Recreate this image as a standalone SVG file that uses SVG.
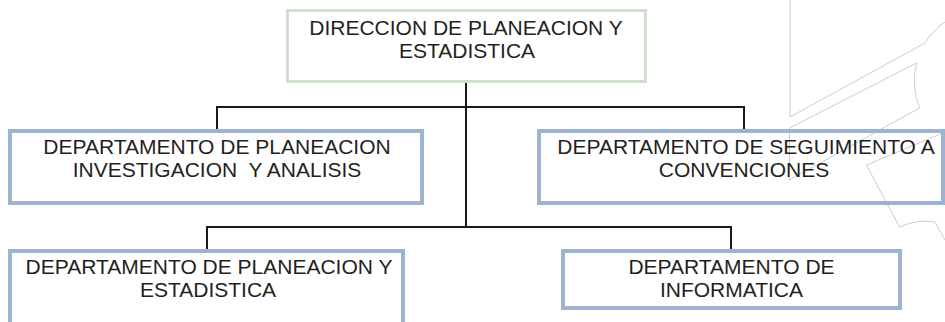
<svg xmlns="http://www.w3.org/2000/svg" width="945" height="322" viewBox="0 0 945 322">
<style>
.wm{fill:none;stroke:#cccccc;stroke-width:1}
.box{fill:none;stroke:#9db4d0;stroke-width:4}
.top{fill:none;stroke:#cfe0cc;stroke-width:3}
.t{font-family:"Liberation Sans",Arial,sans-serif;font-size:21px;fill:#231f20;text-anchor:middle}
.c{fill:none;stroke:#1a1a1a;stroke-width:2}
</style>
<rect width="945" height="322" fill="#ffffff"/>
<g id="watermark">
<path class="wm" d="M790,0 L790,117 L925,43 Q933,30 945,22"/>
<path class="wm" d="M789.5,128 L916.5,63 Q911,86 919.5,108 L789.5,180 Z"/>
<path class="wm" d="M945,132 L866.5,165 L899.5,227 Q917,219 935,222 L945,240"/>
</g>
<g id="connectors">
<path class="c" d="M466,83 V227"/>
<path class="c" d="M217,129 V107 H744 V129"/>
<path class="c" d="M207,249 V227 H731 V249"/>
</g>
<g id="n0">
<rect class="top" x="287.5" y="10.5" width="358" height="71"/>
<text class="t" x="466" y="35">DIRECCION DE PLANEACION Y</text>
<text class="t" x="467" y="58">ESTADISTICA</text>
</g>
<g id="n1">
<rect class="box" x="10" y="131" width="412" height="72"/>
<text class="t" x="217" y="154">DEPARTAMENTO DE PLANEACION</text>
<text class="t" x="217" y="177" xml:space="preserve">INVESTIGACION  Y ANALISIS</text>
</g>
<g id="n2">
<rect class="box" x="539" y="131" width="404" height="72"/>
<text class="t" x="746" y="154">DEPARTAMENTO DE SEGUIMIENTO A</text>
<text class="t" x="744" y="177">CONVENCIONES</text>
</g>
<g id="n3">
<rect class="box" x="10" y="251" width="393" height="80"/>
<text class="t" x="209" y="274">DEPARTAMENTO DE PLANEACION Y</text>
<text class="t" x="208" y="297">ESTADISTICA</text>
</g>
<g id="n4">
<rect class="box" x="563" y="251" width="337" height="57"/>
<text class="t" x="731.5" y="274">DEPARTAMENTO DE</text>
<text class="t" x="731.5" y="297">INFORMATICA</text>
</g>
</svg>
